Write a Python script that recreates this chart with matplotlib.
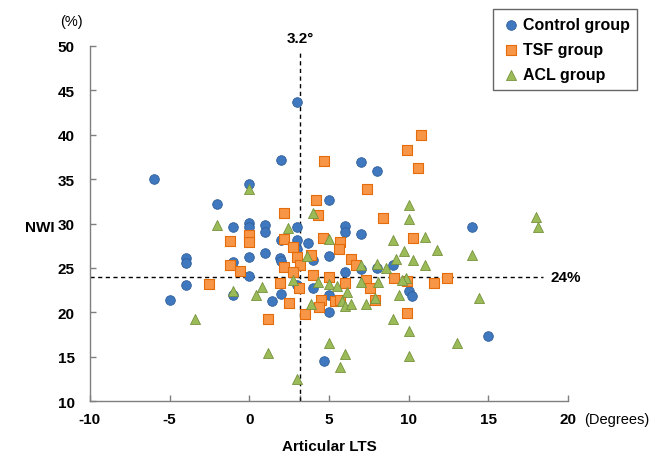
import numpy as np
import matplotlib
matplotlib.use('Agg')
import matplotlib.pyplot as plt

plt.rcParams['font.family'] = ['Liberation Sans', 'DejaVu Sans']

# ------- data: (articular LTS in degrees, NWI in %) -------
control_x = [-6.0, -2.0, 0.0, 3.0, 2.0, 7.0, 8.0, 5.0, -1.0, 0.0, 0.0, 1.0, 1.0, 3.0, 6.0,
             6.0, 7.0, 2.0, 3.0, 3.7, 3.0, -4.0, -4.0, -1.0, 0.0, 0.0, 1.0, 1.9, 2.0, 4.0,
             5.0, 7.0, 8.0, 9.0, 6.0, -4.0, -1.0, -5.0, 3.0, 4.0, 2.0, 1.4, 5.0, 10.0, 10.2,
             5.0, 4.7, 14.0, 15.0]
control_y = [35.0, 32.2, 34.5, 43.7, 37.2, 36.9, 35.9, 32.6, 29.6, 30.1, 29.6, 29.8, 29.0, 29.6, 29.7,
             29.0, 28.8, 28.2, 28.2, 27.8, 27.1, 26.1, 25.6, 25.7, 26.2, 24.1, 26.7, 26.1, 25.8, 25.9,
             26.4, 24.9, 25.0, 25.3, 24.6, 23.1, 22.0, 21.4, 23.1, 22.8, 22.1, 21.3, 22.0, 22.4, 21.9,
             20.0, 14.5, 29.6, 17.3]

tsf_x = [4.7, 7.4, 4.2, 2.2, 4.3, 8.4, 9.9, 10.8, 10.6, 0.0, 0.0, -1.2, -1.2, -0.6, -2.5,
         2.2, 2.75, 4.6, 5.7, 5.6, 3.0, 3.9, 3.2, 2.2, 2.75, 4.0, 5.0, 6.4, 6.7, 6.0,
         1.9, 3.1, 7.3, 7.6, 9.1, 9.9, 2.5, 4.5, 5.4, 5.7, 4.4, 7.9, 3.5, 1.2, 9.9,
         10.3, 11.6, 12.4]
tsf_y = [37.1, 33.9, 32.6, 31.2, 31.0, 30.6, 38.3, 40.0, 36.3, 28.7, 27.9, 28.0, 25.3, 24.7, 23.2,
         28.3, 27.4, 28.4, 27.9, 27.1, 26.2, 26.5, 25.3, 25.1, 24.5, 24.2, 24.0, 26.0, 25.3, 23.3,
         23.3, 22.7, 23.6, 22.8, 23.9, 23.5, 21.1, 21.4, 21.3, 21.4, 20.6, 21.4, 19.8, 19.2, 19.9,
         28.4, 23.3, 23.9]

acl_x = [0.0, -2.0, 10.0, 10.0, 18.0, 18.1, 4.0, 2.4, 5.0, 9.0, 9.7, 3.6, 7.0, 8.0, 8.6,
         9.2, 11.0, 11.8, 14.0, 10.3, 11.0, 9.8, -1.0, 0.4, 0.8, 2.75, 4.3, 5.0, 5.5, 6.1,
         7.0, 8.1, 9.6, 9.4, 3.9, 5.8, 6.0, 6.4, 7.3, 7.9, 14.4, -3.4, 9.0, 10.0, 10.0,
         13.0, 5.0, 6.0, 5.7, 1.2, 3.0]
acl_y = [33.9, 29.8, 32.1, 30.5, 30.7, 29.6, 31.2, 29.5, 28.3, 28.2, 26.9, 26.3, 25.3, 25.5, 25.0,
         26.0, 28.5, 27.0, 26.5, 25.9, 25.3, 23.9, 22.4, 22.0, 22.9, 23.6, 23.4, 23.2, 23.0, 22.3,
         23.4, 23.4, 23.6, 22.0, 21.0, 21.3, 20.7, 20.9, 20.9, 21.6, 21.6, 19.2, 19.2, 17.9, 15.1,
         16.6, 16.5, 15.3, 13.9, 15.4, 12.5]

cut_lts = 3.2
cut_nwi = 24

xticks = [-10, -5, 0, 5, 10, 15, 20]
yticks = [10, 15, 20, 25, 30, 35, 40, 45, 50]

# ------- chart -------
fig = plt.figure(figsize=(6.66, 4.56), dpi=100)
ax = fig.add_axes([0.135, 0.118, 0.718, 0.779])

ax.scatter(control_x, control_y, s=48, marker='o', color='#3F78BE', edgecolors='#2F5F9A',
           linewidths=0.6, label='Control group', zorder=3)
ax.scatter(tsf_x, tsf_y, s=44, marker='s', color='#F79646', edgecolors='#E46C0A',
           linewidths=0.8, label='TSF group', zorder=3)
ax.scatter(acl_x, acl_y, s=52, marker='^', color='#9BBB59', edgecolors='#76923C',
           linewidths=0.6, label='ACL group', zorder=3)

# cut-off lines
ax.plot([cut_lts, cut_lts], [10, 49.4], ls=(0, (3, 2.5)), color='black', lw=1, zorder=2, clip_on=False)
ax.plot([-10, 18.4], [cut_nwi, cut_nwi], ls=(0, (3, 2.5)), color='black', lw=1, zorder=2, clip_on=False)
ax.text(cut_lts, 50.1, '3.2°', ha='center', va='bottom', fontsize=11, fontweight='bold')
ax.text(18.9, cut_nwi, '24%', ha='left', va='center', fontsize=11, fontweight='bold')

ax.set_xlim(-10, 20)
ax.set_ylim(10, 50)
ax.set_xticks(xticks + [cut_lts])
ax.set_xticklabels([str(t) for t in xticks] + [''])
ax.set_yticks(yticks)
for lbl in ax.get_xticklabels() + ax.get_yticklabels():
    lbl.set_fontweight('bold')
    lbl.set_fontsize(11)

ax.tick_params(direction='in', length=4, color='#7F7F7F', width=1)
ax.tick_params(axis='x', pad=8)
ax.tick_params(axis='y', pad=11)
for s in ['top', 'right']:
    ax.spines[s].set_visible(False)
for s in ['left', 'bottom']:
    ax.spines[s].set_color('#7F7F7F')
    ax.spines[s].set_linewidth(1)

ax.set_xlabel('Articular LTS', fontsize=11, fontweight='bold', labelpad=9)
fig.text(40 / 666, 1 - 228 / 456, 'NWI', ha='center', va='center', fontsize=11, fontweight='bold')
fig.text(71 / 666, 1 - 22 / 456, '(%)', ha='center', va='center', fontsize=10.5)
fig.text(584 / 666, 1 - 420 / 456, '(Degrees)', ha='left', va='center', fontsize=10.5)

leg = fig.legend(loc='upper left', bbox_to_anchor=(493 / 666, 1 - 10 / 456), frameon=True,
                 fancybox=False, edgecolor='#404040', handletextpad=0.15,
                 labelspacing=0.62, borderpad=0.5, handlelength=1.2, borderaxespad=0,
                 prop={'weight': 'bold', 'size': 11.5})
leg.get_frame().set_linewidth(1)

fig.savefig('out.png', dpi=100)
